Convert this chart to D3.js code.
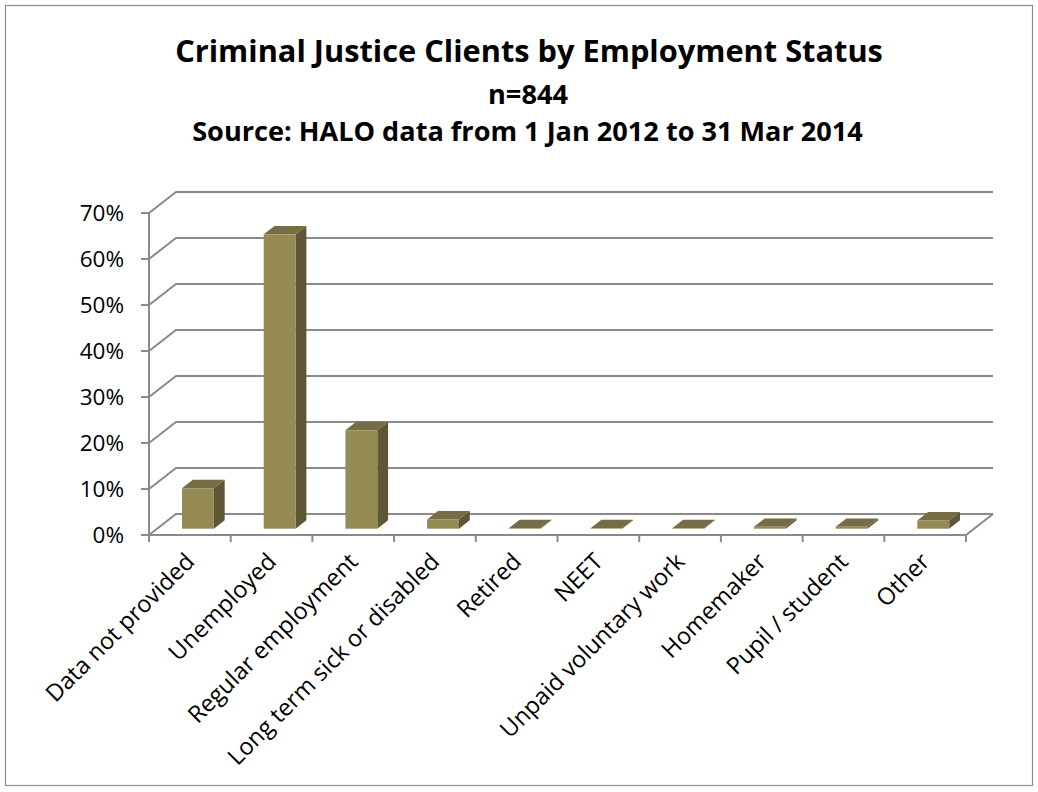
<!DOCTYPE html>
<html>
<head>
<meta charset="utf-8">
<script src="https://cdn.jsdelivr.net/npm/d3@7"></script>
<style>
  html, body { margin: 0; padding: 0; background: #ffffff; }
  svg { display: block; }
</style>
</head>
<body>
<svg id="chart" width="1038" height="792"></svg>
<script>
// ---- data ----
const categories = ["Data not provided", "Unemployed", "Regular employment", "Long term sick or disabled",
  "Retired", "NEET", "Unpaid voluntary work", "Homemaker", "Pupil / student", "Other"];
const percentValues = [8.8, 64.0, 21.4, 2.0, 0.12, 0.1, 0.1, 0.4, 0.4, 1.8];
const yTicks = [0, 10, 20, 30, 40, 50, 60, 70];
const yTickLabels = ["0%", "10%", "20%", "30%", "40%", "50%", "60%", "70%"];
const titleLines = ["Criminal Justice Clients by Employment Status", "n=844", "Source: HALO data from 1 Jan 2012 to 31 Mar 2014"];

// ---- layout ----
const W = 1038, H = 792;
const frontLeft = 149, frontRight = 966;
const frontBottom = 535, frontTop = 213;
const depthX = 27, depthY = -21;
const barFront = 0.3, barDepth = 0.4;
const gridColor = "#8a8a8a";
const colFront = "#948a54", colSide = "#5e5634", colTop = "#766c45";

const svg = d3.select("#chart");
svg.append("rect").attr("x", 5.5).attr("y", 5.5).attr("width", 1027).attr("height", 780)
  .attr("fill", "#fff").attr("stroke", "#8c8c8c").attr("stroke-width", 1.2);

const x = d3.scaleBand().domain(categories).range([frontLeft, frontRight])
  .paddingInner(0.61).paddingOuter(0.305);
const xStep = x.step();
const y = d3.scaleLinear().domain([0, 70]).range([frontBottom, frontTop]);

// ---- walls / gridlines ----
const g = svg.append("g");
yTicks.forEach(t => {
  const yf = y(t);
  g.append("path")
    .attr("d", `M${frontLeft},${yf}L${frontLeft + depthX},${yf + depthY}L${frontRight + depthX},${yf + depthY}`)
    .attr("fill", "none").attr("stroke", gridColor).attr("stroke-width", 2);
});
// floor front edge and right edge
g.append("path")
  .attr("d", `M${frontLeft},${y(0)}L${frontRight},${y(0)}L${frontRight + depthX},${y(0) + depthY}`)
  .attr("fill", "none").attr("stroke", gridColor).attr("stroke-width", 2);

// y axis
g.append("line").attr("x1", frontLeft).attr("x2", frontLeft).attr("y1", y(0)).attr("y2", y(70))
  .attr("stroke", gridColor).attr("stroke-width", 2);
yTicks.forEach((t, i) => {
  g.append("line").attr("x1", frontLeft - 8).attr("x2", frontLeft).attr("y1", y(t)).attr("y2", y(t))
    .attr("stroke", gridColor).attr("stroke-width", 2);
  g.append("text").attr("x", 124).attr("y", y(t)).attr("dy", "0.36em")
    .attr("text-anchor", "end").attr("font-family", "'Open Sans', sans-serif")
    .attr("font-size", 22.5).attr("fill", "#000").text(yTickLabels[i]);
});

// x ticks at band boundaries
for (let i = 0; i <= categories.length; i++) {
  const xb = frontLeft + i * xStep;
  g.append("line").attr("x1", xb).attr("x2", xb).attr("y1", y(0)).attr("y2", y(0) + 7)
    .attr("stroke", gridColor).attr("stroke-width", 2);
}

// ---- bars ----
const bars = svg.append("g");
categories.forEach((c, i) => {
  const v = percentValues[i];
  const ox = barFront * depthX, oy = barFront * depthY;
  const bx = barDepth * depthX, by = barDepth * depthY;
  const xl = x(c) + ox, xr = xl + x.bandwidth();
  const yb = y(0) + oy, yt = y(v) + oy;
  // side face
  bars.append("path")
    .attr("d", `M${xr},${yb}L${xr + bx},${yb + by}L${xr + bx},${yt + by}L${xr},${yt}Z`)
    .attr("fill", colSide);
  // top face
  bars.append("path")
    .attr("d", `M${xl},${yt}L${xr},${yt}L${xr + bx},${yt + by}L${xl + bx},${yt + by}Z`)
    .attr("fill", colTop);
  // front face
  bars.append("rect").attr("x", xl).attr("y", yt).attr("width", x.bandwidth()).attr("height", Math.max(0, yb - yt))
    .attr("fill", colFront);
});

// ---- category labels ----
categories.forEach(c => {
  const cx = x(c) + x.bandwidth() / 2 + 6;
  svg.append("text")
    .attr("transform", `translate(${cx},${563}) rotate(-45)`)
    .attr("text-anchor", "end")
    .attr("font-family", "'Open Sans', sans-serif").attr("font-size", 23.5)
    .attr("fill", "#000").text(c);
});

// ---- titles ----
function fitText(sel, target) {
  const len = sel.node().getComputedTextLength();
  const fs = parseFloat(sel.attr("font-size"));
  sel.attr("font-size", fs * target / len);
}
const t1 = svg.append("text").attr("x", 529).attr("y", 62).attr("text-anchor", "middle")
  .attr("font-family", "'Open Sans', sans-serif").attr("font-weight", "bold").attr("font-size", 28)
  .attr("fill", "#000").text(titleLines[0]);
fitText(t1, 708);
const t2 = svg.append("text").attr("x", 528).attr("y", 104).attr("text-anchor", "middle")
  .attr("font-family", "'Open Sans', sans-serif").attr("font-weight", "bold").attr("font-size", 23)
  .attr("fill", "#000").text(titleLines[1]);
fitText(t2, 80);
const t3 = svg.append("text").attr("x", 527.5).attr("y", 141).attr("text-anchor", "middle")
  .attr("font-family", "'Open Sans', sans-serif").attr("font-weight", "bold").attr("font-size", 23)
  .attr("fill", "#000").text(titleLines[2]);
fitText(t3, 671);
</script>
</body>
</html>
